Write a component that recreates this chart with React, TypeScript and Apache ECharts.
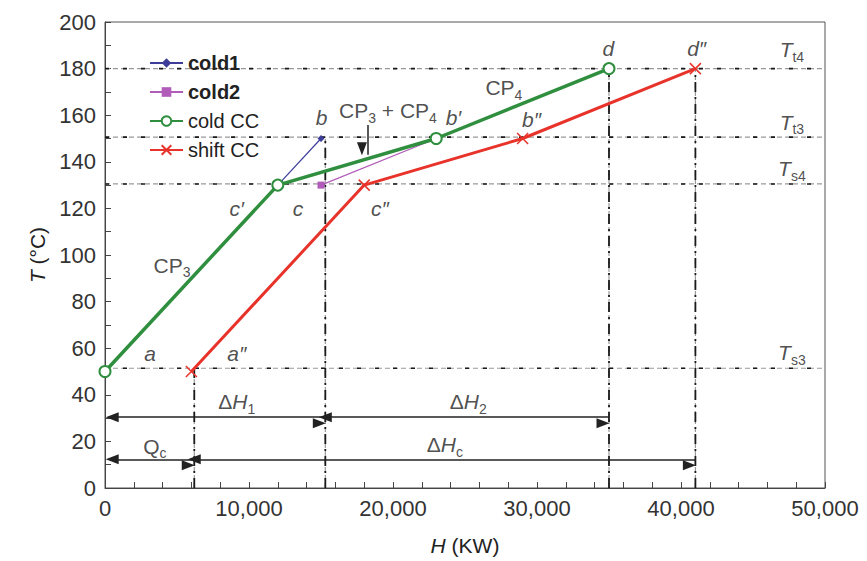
import React, { useEffect, useRef } from 'react';
import * as echarts from 'echarts';

// ---- data ----
const coldCCH = [0, 12000, 23000, 35000];
const coldCCT = [50, 130, 150, 180];
const shiftCCH = [6000, 18000, 29000, 41000];
const shiftCCT = [50, 130, 150, 180];
const cold1H = [12000, 15000];
const cold1T = [130, 150];
const cold2H = [15000, 23000];
const cold2T = [130, 150];

// reference temperature levels: Tt4, Tt3, Ts4, Ts3
const levelT = [180, 150.6, 130.5, 51.4];
// vertical guide lines (H position and top temperature)
const guideH = [6200, 15300, 35000, 41000];
const guideTop = [51.4, 150.6, 180, 180];

// double-headed span arrows
const spanStart = [500, 15300, 500, 6200];
const spanEnd = [15300, 35000, 6200, 41000];
const spanT = [30.4, 30.4, 12.3, 12.3];

// annotation texts and anchors
const annText = [
  '{i|a}', '{i|a″}', '{i|c′}', '{i|c}', '{i|c″}', '{i|b}', '{i|b′}', '{i|b″}', '{i|d}', '{i|d″}',
  '{i|T}{s|t4}', '{i|T}{s|t3}', '{i|T}{s|s4}', '{i|T}{s|s3}',
  '{n|Δ}{i|H}{s|1}', '{n|Δ}{i|H}{s|2}', '{n|Q}{s|c}', '{n|Δ}{i|H}{s|c}',
  '{n|CP}{s|3}{n| + CP}{s|4}', '{n|CP}{s|4}', '{n|CP}{s|3}',
];
const annH = [
  3125, 9150, 9150, 13400, 19100, 15040, 24200, 29630, 34950, 41090,
  47700, 47700, 47700, 47700,
  9150, 25230, 3470, 23600,
  19650, 27700, 4650,
];
const annT = [
  57.8, 57.8, 120, 120, 120, 159, 159, 158, 188.6, 188.6,
  188, 157, 137, 58,
  37, 37, 18, 18.5,
  162, 171.7, 95.7,
];
// small arrow below "CP3 + CP4"
const pointerH = 18260;
const pointerFrom = 155.8;
const pointerTo = 143;

const H_MIN = 0;
const H_MAX = 50000;

const FONT = '"Liberation Sans", Arial, Helvetica, sans-serif';
const GREEN = '#2f8f3f';
const RED = '#e8332b';
const BLUE = '#3d3d99';
const PURPLE = '#b05cb8';
const INK = '#222';

const rich = {
  n: { fontSize: 21, fontFamily: FONT, color: INK, lineHeight: 26 },
  i: { fontSize: 21, fontFamily: FONT, color: INK, fontStyle: 'italic', lineHeight: 26 },
  s: { fontSize: 14, fontFamily: FONT, color: INK, verticalAlign: 'bottom', height: 12 },
};

const zip = (xs: number[], ys: number[]) => xs.map((x, i) => [x, ys[i]]);

export default function App() {
  const ref = useRef<HTMLDivElement>(null);

  useEffect(() => {
    if (!ref.current) return;
    const chart = echarts.init(ref.current, undefined, { renderer: 'svg' });

    const guideSeries: any[] = [];
    levelT.forEach((t) => {
      const data = [[H_MIN, t], [H_MAX, t]];
      guideSeries.push({
        type: 'line', data, symbol: 'none', silent: true, z: 1,
        lineStyle: { color: '#9a9a9a', width: 1.2, type: [5, 3] },
      });
      guideSeries.push({
        type: 'line', data, symbol: 'none', silent: true, z: 1,
        lineStyle: { color: '#1a1a1a', width: 1.6, type: [4, 14] },
      });
    });
    guideH.forEach((h, k) => {
      const data = [[h, 0], [h, guideTop[k]]];
      guideSeries.push({
        type: 'line', data, symbol: 'none', silent: true, z: 1,
        lineStyle: { color: '#9a9a9a', width: 1.2, type: [5, 3] },
      });
      guideSeries.push({
        type: 'line', data, symbol: 'none', silent: true, z: 1,
        lineStyle: { color: '#1a1a1a', width: 1.8, type: [10, 5, 2, 5] },
      });
    });

    const option: any = {
      animation: false,
      backgroundColor: '#fff',
      grid: {
        left: 105, right: 42, top: 22, bottom: 73,
        show: true, borderColor: '#555', borderWidth: 1, backgroundColor: 'transparent',
      },
      legend: {
        data: ['cold1', 'cold2', 'cold CC', 'shift CC'],
        orient: 'vertical',
        left: 144, top: 48,
        itemWidth: 33, itemHeight: 12, itemGap: 9,
        selectedMode: false,
        formatter: (name: string) => (name === 'cold1' || name === 'cold2' ? `{b|${name}}` : `{r|${name}}`),
        textStyle: {
          fontFamily: FONT, fontSize: 20, color: INK, lineHeight: 20,
          rich: {
            b: { fontFamily: FONT, fontSize: 20, fontWeight: 'bold', color: INK, lineHeight: 20 },
            r: { fontFamily: FONT, fontSize: 20, color: INK, lineHeight: 20 },
          },
        },
      },
      xAxis: {
        type: 'value', min: H_MIN, max: H_MAX, interval: 10000,
        name: '{i|H} (KW)', nameLocation: 'middle', nameGap: 44,
        nameTextStyle: { fontFamily: FONT, fontSize: 21, color: INK, rich },
        axisLine: { lineStyle: { color: '#444', width: 1 } },
        axisTick: { inside: true, length: 6, lineStyle: { color: '#444' } },
        minorTick: { show: true, splitNumber: 5, length: 6, lineStyle: { color: '#444' } },
        splitLine: { show: false },
        axisLabel: {
          fontFamily: FONT, fontSize: 22, color: '#333', margin: 9,
          formatter: (v: number) => v.toLocaleString('en-US'),
        },
      },
      yAxis: {
        type: 'value', min: 0, max: 200, interval: 20,
        name: '{i|T} (°C)', nameLocation: 'middle', nameGap: 54,
        nameTextStyle: { fontFamily: FONT, fontSize: 21, color: INK, rich },
        axisLine: { show: true, lineStyle: { color: '#444', width: 1 } },
        axisTick: { show: true, inside: true, length: 6, lineStyle: { color: '#444' } },
        minorTick: { show: true, splitNumber: 2, length: 6, lineStyle: { color: '#444' } },
        splitLine: { show: false },
        axisLabel: { fontFamily: FONT, fontSize: 22, color: '#333', margin: 9 },
      },
      series: [
        ...guideSeries,
        {
          name: 'cold1', type: 'line', data: zip(cold1H, cold1T), z: 3,
          symbol: 'diamond', symbolSize: 7, showAllSymbol: true,
          lineStyle: { color: BLUE, width: 1.2 }, itemStyle: { color: BLUE },
        },
        {
          name: 'cold2', type: 'line', data: zip(cold2H, cold2T), z: 3,
          symbol: 'rect', symbolSize: 7, showAllSymbol: true,
          lineStyle: { color: PURPLE, width: 1.2 }, itemStyle: { color: PURPLE },
        },
        {
          name: 'shift CC', type: 'line', data: zip(shiftCCH, shiftCCT), z: 4,
          symbol: 'path://M0,0L10,10M10,0L0,10', symbolSize: 11, showAllSymbol: true,
          lineStyle: { color: RED, width: 3 },
          itemStyle: { color: RED, borderColor: RED, borderWidth: 1.5 },
        },
        {
          name: 'cold CC', type: 'line', data: zip(coldCCH, coldCCT), z: 5,
          symbol: 'emptyCircle', symbolSize: 11, showAllSymbol: true,
          lineStyle: { color: GREEN, width: 3.5 },
          itemStyle: { color: GREEN, borderColor: GREEN, borderWidth: 1.5 },
        },
        {
          type: 'line', data: [], silent: true, z: 6,
          markLine: {
            silent: true, animation: false,
            symbol: ['triangle', 'triangle'], symbolSize: [10, 13], symbolOffset: [0, 6],
            lineStyle: { color: INK, width: 1.5, type: 'solid' },
            label: { show: false },
            emphasis: { disabled: true },
            data: spanStart.map((s, k) => [
              { coord: [s, spanT[k]] },
              { coord: [spanEnd[k], spanT[k]] },
            ]).concat([[
              { coord: [pointerH, pointerFrom], symbol: 'none' } as any,
              { coord: [pointerH, pointerTo] } as any,
            ]]),
          },
        },
        {
          type: 'scatter', silent: true, z: 7, symbolSize: 0,
          data: annH.map((h, k) => ({ value: [h, annT[k]], t: annText[k] })),
          label: {
            show: true, position: 'inside', align: 'center', verticalAlign: 'middle',
            formatter: (p: any) => p.data.t,
            rich,
          },
        },
      ],
    };

    chart.setOption(option);
    return () => chart.dispose();
  }, []);

  return (
    <div
      ref={ref}
      style={{ position: 'fixed', left: 0, top: 0, width: 867, height: 561, background: '#fff' }}
    />
  );
}
